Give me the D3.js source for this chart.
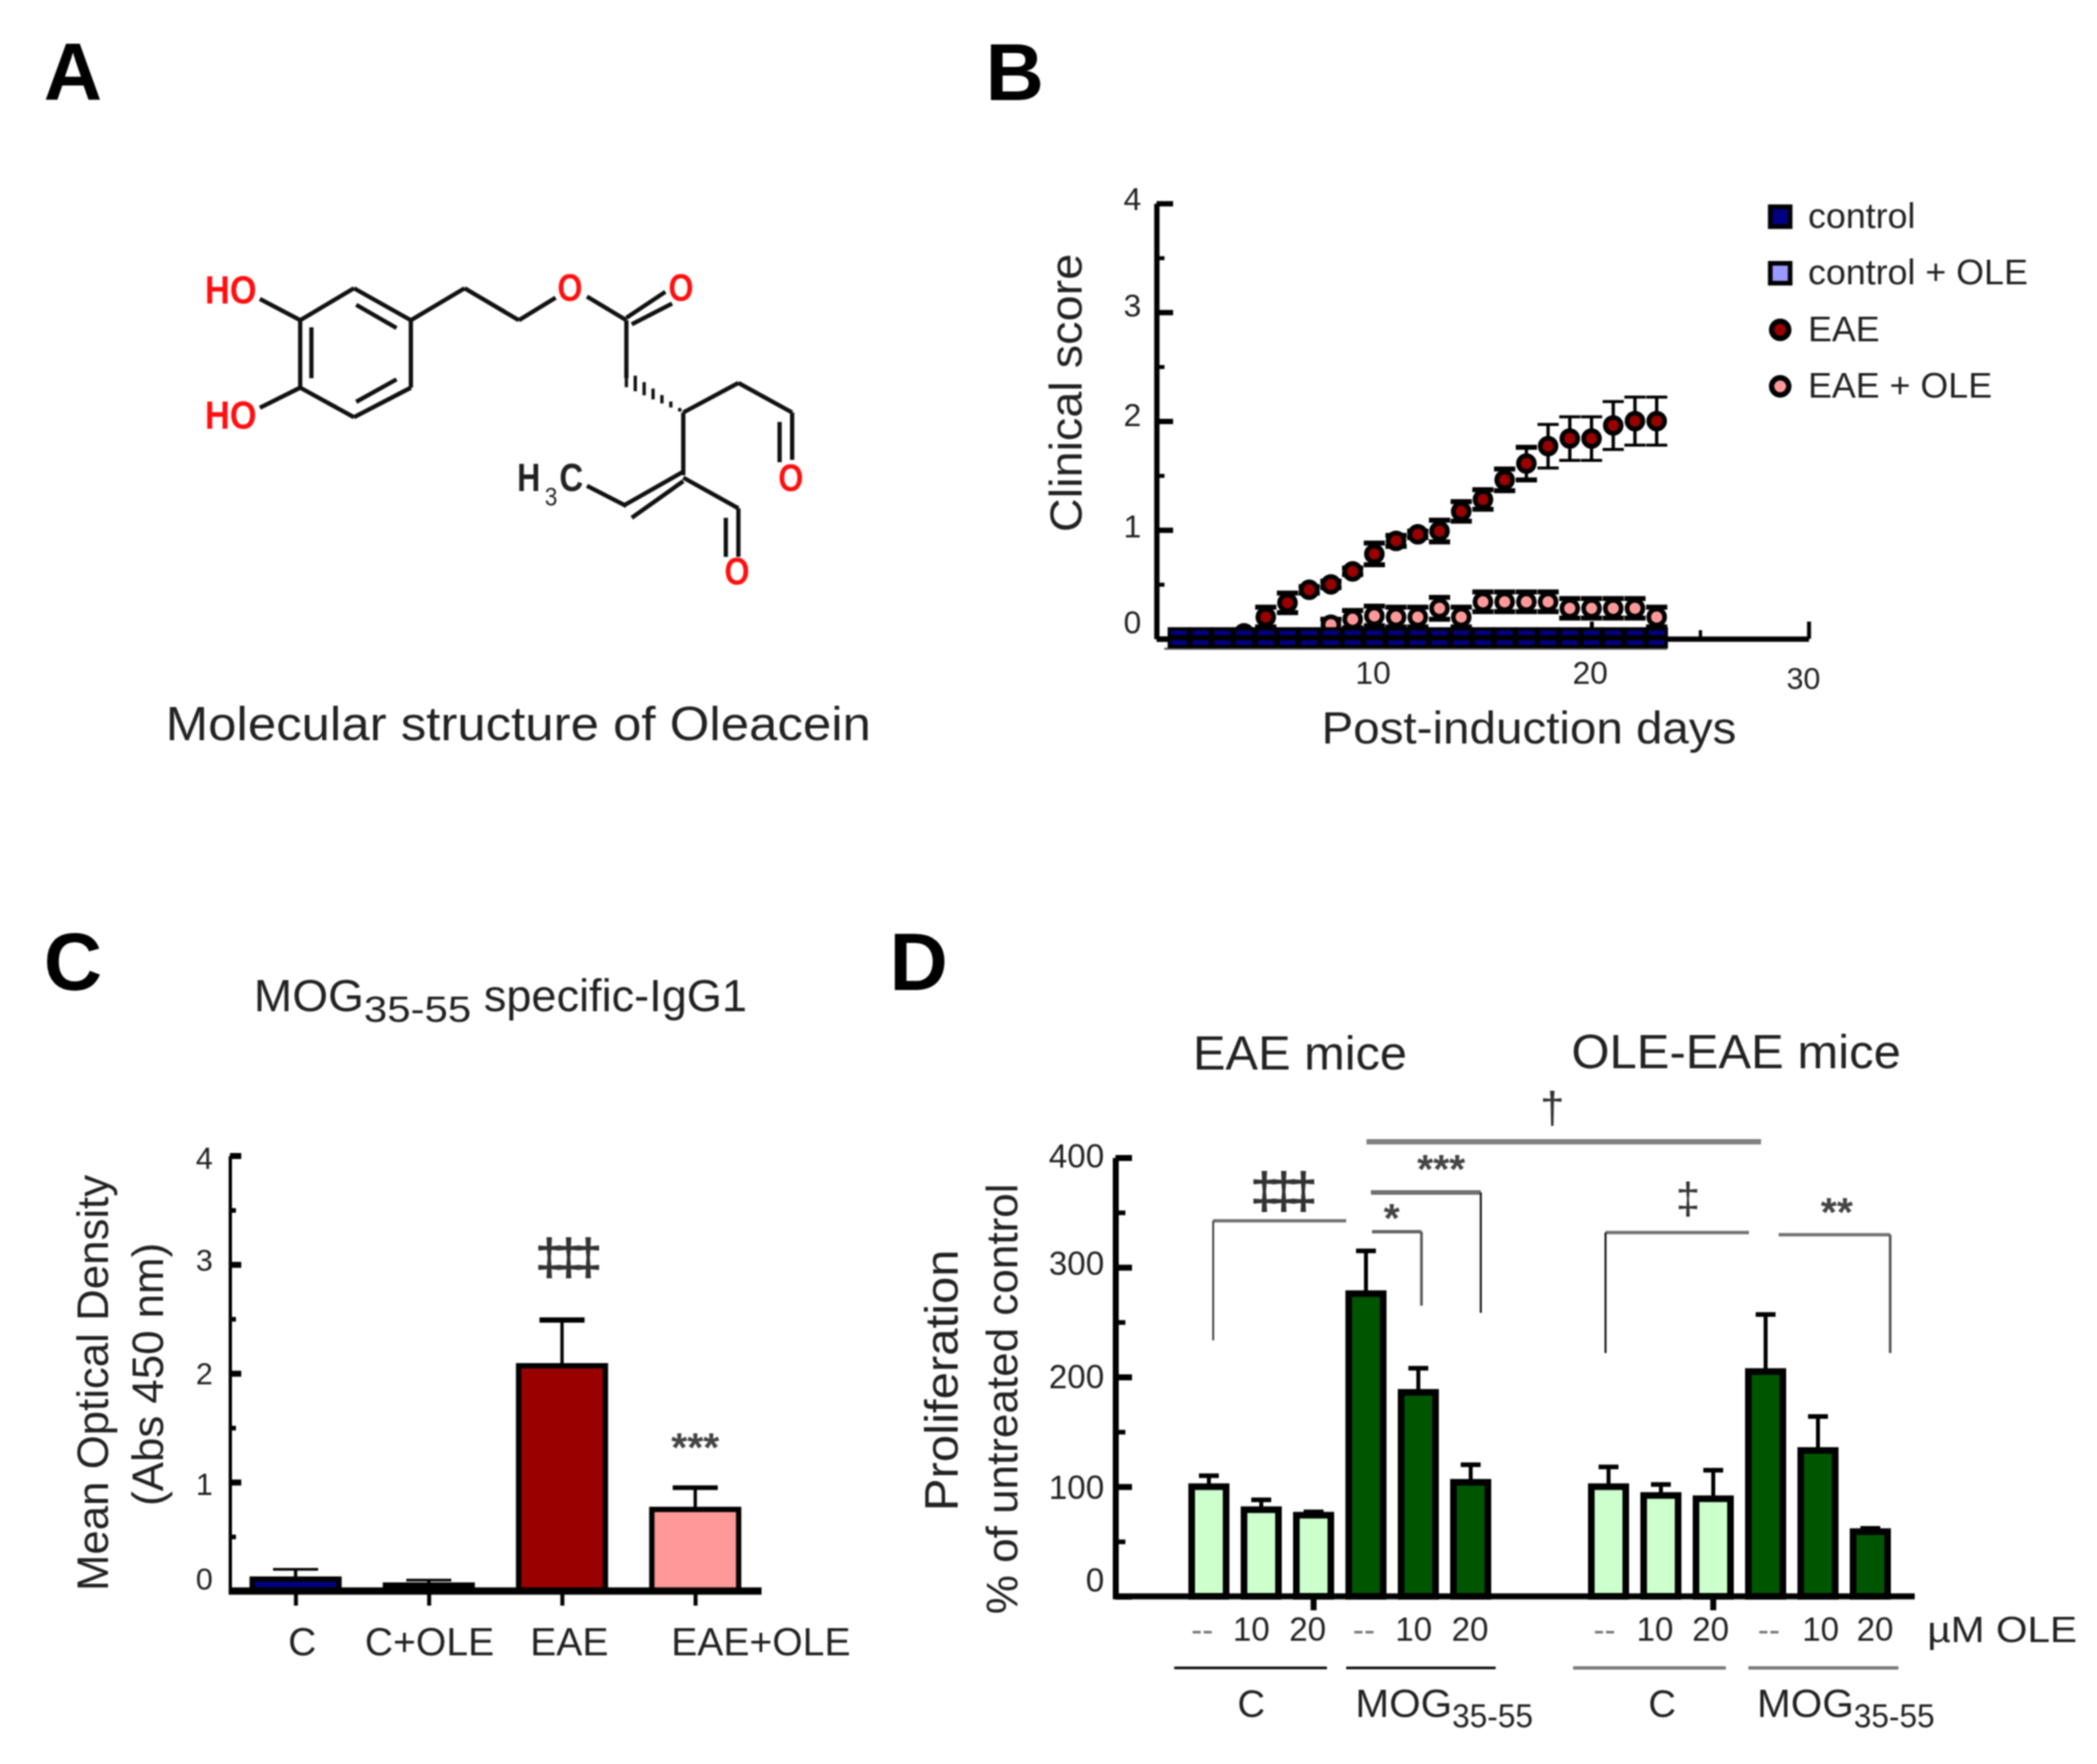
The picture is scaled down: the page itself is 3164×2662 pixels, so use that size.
<!DOCTYPE html>
<html><head><meta charset="utf-8">
<script src="https://cdnjs.cloudflare.com/ajax/libs/d3/7.8.5/d3.min.js"></script>
<style>html,body{margin:0;background:#fff}svg{display:block;filter:blur(.8px)}text{font-family:"Liberation Sans",Arial,sans-serif;fill:#111}</style>
</head><body><script>
// ---------- data ----------
const days=d3.range(1,24);
const eaeDays=d3.range(4,24);
const eae=[0.05,0.2,0.33,0.45,0.5,0.62,0.78,0.9,0.96,0.99,1.17,1.28,1.46,1.61,1.77,1.84,1.84,1.96,2,2];
const eaeErr=[0,0.09,0.09,0.03,0.03,0.03,0.1,0.05,0.03,0.1,0.09,0.09,0.1,0.15,0.2,0.2,0.2,0.22,0.22,0.22];
const oleDays=d3.range(8,24);
const eaeOle=[0.13,0.18,0.21,0.2,0.2,0.28,0.2,0.34,0.34,0.34,0.34,0.28,0.28,0.28,0.28,0.2];
const eaeOleErr=[0.05,0.08,0.09,0.09,0.09,0.1,0.09,0.09,0.09,0.09,0.09,0.09,0.09,0.09,0.09,0.09];
const controlRow=0.055, controlOleRow=-0.035;
const legendNames=["control","control + OLE","EAE","EAE + OLE"];
const colors={navy:"#000080",lilac:"#9999ff",red:"#990000",pink:"#ff9999",lightGreen:"#ccffcc",darkGreen:"#005500"};
const cCats=["C","C+OLE","EAE","EAE+OLE"];
const cVals=[0.11,0.055,2.07,0.75];
const cCaps=[0.2,0.1,2.49,0.95];
const cFill=[colors.navy,"#000000",colors.red,colors.pink];
const dVals=[100,79,74,276,186,104,100,92,89,205,133,59];
const dCaps=[110,88,77,315,208,120,118,102,115,257,164,62];
const dFill=[0,0,0,1,1,1,0,0,0,1,1,1];
const doseLabels=["--","10","20","--","10","20"];

const svg=d3.select("body").append("svg").attr("width",3164).attr("height",2662);
function T(g,x,y,s,o={}){
  const t=g.append("text").attr("x",x).attr("y",y).text(s)
   .attr("font-size",o.size||56).attr("text-anchor",o.anchor||"start");
  if(o.weight)t.attr("font-weight",o.weight);
  if(o.fill)t.style("fill",o.fill);
  if(o.rot)t.attr("transform",`rotate(${o.rot} ${x} ${y})`);
  if(o.len)t.attr("textLength",o.len).attr("lengthAdjust","spacingAndGlyphs");
  if(o.ls)t.attr("letter-spacing",o.ls);
  return t;
}
function axisY(g,y,x,major,minor,o){
  const a=g.append("g").attr("transform",`translate(${x},0)`)
    .call(d3.axisLeft(y).tickValues(major).tickSize(-o.majLen).tickPadding(o.pad).tickSizeOuter(0).tickFormat(d3.format("d")));
  a.select(".domain").attr("stroke","#000").attr("stroke-width",o.w);
  a.selectAll(".tick line").attr("stroke","#000").attr("stroke-width",o.tw);
  a.selectAll(".tick text").attr("font-size",o.font).style("font-family","Liberation Sans").style("fill","#222")
   .attr("dy",(d,i)=>o.dy[i]);
  const m=g.append("g").attr("transform",`translate(${x},0)`)
    .call(d3.axisRight(y).tickValues(minor).tickSize(o.minLen).tickFormat(""));
  m.select(".domain").remove();
  m.selectAll(".tick line").attr("stroke","#000").attr("stroke-width",o.tw-2);
}

// ---------- panel letters ----------
[["A",66,151],["B",1487,151],["C",66,1494],["D",1342,1494]].forEach(d=>
  T(svg,d[1],d[2],d[0],{size:122,weight:"bold",fill:"#000"}));

// ---------- A: molecule, in drawing units ----------
const mx=d3.scaleLinear([0,1568],[240,1300]), my=d3.scaleLinear([0,1568],[360,920]);
const bonds=[[315,345,435,210],[435,210,562,345],[562,345,562,630],[562,630,435,755],[435,755,315,630],[315,630,315,345],
[340,375,340,590],[440,280,530,378],[440,690,530,595],[562,345,682,210],[682,210,803,345],[803,345,885,250],[955,245,1043,345],
[1043,335,1130,225],[1055,362,1145,275],[1043,345,1043,590],[1170,735,1293,610],[1293,610,1413,735],[1413,735,1413,935],[1385,775,1385,945],
[1170,735,1170,1000],[1170,985,1040,1125],[1170,1025,1055,1180],[1043,1130,955,1045],[1170,1010,1293,1140],[1293,1140,1293,1345],[1265,1180,1265,1345],
[315,345,225,255],[315,630,225,715]];
const gA=svg.append("g");
gA.selectAll("line.b").data(bonds).join("line").attr("stroke","#111").attr("stroke-width",6.5)
 .attr("x1",d=>mx(d[0])).attr("y1",d=>my(d[1])).attr("x2",d=>mx(d[2])).attr("y2",d=>my(d[3]));
const hash=d3.range(7).map(i=>i/6.3);
gA.selectAll("line.h").data(hash).join("line").attr("stroke","#111").attr("stroke-width",5)
 .attr("x1",t=>mx(1043+t*125)).attr("x2",t=>mx(1043+t*125))
 .attr("y1",t=>my(590+t*140-32*(1-t)-6)).attr("y2",t=>my(590+t*140+32*(1-t)+6));
[["HO",160,275],["HO",160,803]].forEach(d=>T(gA,mx(d[1]),my(d[2]),d[0],{size:60,weight:"bold",anchor:"middle",fill:"#ff1010",len:78}));
[["O",917,264],["O",1165,264],["O",1410,1067],["O",1290,1462]].forEach(d=>T(gA,mx(d[1]),my(d[2]),d[0],{size:58,weight:"bold",anchor:"middle",fill:"#ff1010",len:38}));
T(gA,mx(825),my(1068),"H",{size:60,anchor:"middle",len:35,weight:"bold",fill:"#222"});
T(gA,mx(875),my(1128),"3",{size:38,anchor:"middle",len:19,fill:"#222"});
T(gA,mx(920),my(1068),"C",{size:60,anchor:"middle",len:36,weight:"bold",fill:"#222"});
T(svg,250,1117,"Molecular structure of Oleacein",{size:72,len:1064,fill:"#222"});

// ---------- B ----------
const gB=svg.append("g");
const xB=d3.scaleLinear([0,30],[1746,2729]);
const yB=d3.scaleLinear([0,4],[964,307]);
axisY(gB,yB,1745,[0,1,2,3,4],[0.5,1.5,2.5,3.5],{majLen:25,minLen:12,pad:23,w:8,tw:8,font:48,dy:["-.17em",".23em",".15em",".12em",".2em"]});
const xa=gB.append("g").attr("transform","translate(0,964)")
  .call(d3.axisTop(xB).tickValues([10,20,30]).tickSize(26).tickFormat("").tickSizeOuter(0));
xa.select(".domain").attr("stroke","#000").attr("stroke-width",8);
xa.selectAll(".tick line").attr("stroke","#000").attr("stroke-width",6);
const xm=gB.append("g").attr("transform","translate(0,964)")
  .call(d3.axisTop(xB).tickValues([5,15,25]).tickSize(13).tickFormat("").tickSizeOuter(0));
xm.select(".domain").remove();xm.selectAll(".tick line").attr("stroke","#000").attr("stroke-width",5);
[[10,1032,48],[20,1032,48],[30,1040,46]].forEach(d=>T(gB,xB(d[0])-(d[0]==30?8:2),d[1],d[0],{size:d[2],anchor:"middle",fill:"#222"}));
function errBars(g,xs,vals,errs){
  const capHalf=16;
  const p=xs.map((d,i)=>({d,v:vals[i],e:errs[i]}));
  g.selectAll(null).data(p).join("line").attr("stroke","#000").attr("stroke-width",5)
   .attr("x1",a=>xB(a.d)).attr("x2",a=>xB(a.d)).attr("y1",a=>yB(a.v-a.e)).attr("y2",a=>yB(a.v+a.e));
  [1,-1].forEach(s=>g.selectAll(null).data(p).join("line").attr("stroke","#000").attr("stroke-width",a=>a.e>0.18?4.5:7.5)
   .attr("x1",a=>xB(a.d)-capHalf).attr("x2",a=>xB(a.d)+capHalf)
   .attr("y1",a=>yB(a.v+s*a.e)).attr("y2",a=>yB(a.v+s*a.e)));
}
const circ=d3.symbol(d3.symbolCircle,Math.PI*12*12);
errBars(gB,eaeDays,eae,eaeErr);
gB.selectAll(null).data(eaeDays).join("path").attr("d",circ).attr("fill",colors.red).attr("stroke","#000").attr("stroke-width",7)
 .attr("transform",(d,i)=>`translate(${xB(d)},${yB(eae[i])})`);
errBars(gB,oleDays,eaeOle,eaeOleErr);
gB.selectAll(null).data(oleDays).join("path").attr("d",circ).attr("fill",colors.pink).attr("stroke","#000").attr("stroke-width",7)
 .attr("transform",(d,i)=>`translate(${xB(d)},${yB(eaeOle[i])})`);
gB.append("line").attr("x1",xB(1)-22).attr("x2",xB(23)+16).attr("y1",979).attr("y2",979).attr("stroke","#555").attr("stroke-width",3);
[controlOleRow,controlRow].forEach(v=>gB.selectAll(null).data(days).join("rect").attr("fill",colors.navy).attr("stroke","#000").attr("stroke-width",5)
 .attr("x",d=>xB(d)-14.5).attr("width",29).attr("y",yB(v)-6).attr("height",12));
T(gB,1632,593,"Clinical score",{size:68,anchor:"middle",rot:-90,len:420,fill:"#222"});
T(gB,2307,1122,"Post-induction days",{size:68,anchor:"middle",len:626,fill:"#222"});
const legY=d3.scalePoint(legendNames,[327,583]);
legendNames.forEach((n,i)=>{
  const y=legY(n);
  if(i<2) gB.append("rect").attr("x",2686-15).attr("y",y-15).attr("width",30).attr("height",30).attr("fill",i?colors.lilac:colors.navy).attr("stroke","#000").attr("stroke-width",7);
  else gB.append("path").attr("d",d3.symbol(d3.symbolCircle,Math.PI*13*13)).attr("transform",`translate(2686,${y})`).attr("fill",i==2?colors.red:colors.pink).attr("stroke","#000").attr("stroke-width",8);
  T(gB,2728,y+17,n,{size:54,fill:"#222"});
});

// ---------- C ----------
const gC=svg.append("g");
const yC=d3.scaleLinear([0,4],[2401,1744]);
const xC=d3.scalePoint(cCats,[446,1049]);
axisY(gC,yC,347,[0,1,2,3,4],[0.5,1.5,2.5,3.5],{majLen:17,minLen:9,pad:26,w:5,tw:9,font:46,dy:["-.05em",".4em",".35em",".2em",".42em"]});
const barW=131;
gC.selectAll(null).data(cCats).join("line").attr("stroke","#000").attr("stroke-width",5)
 .attr("x1",d=>xC(d)).attr("x2",d=>xC(d)).attr("y1",(d,i)=>yC(cVals[i])).attr("y2",(d,i)=>yC(cCaps[i]));
gC.selectAll(null).data(cCats).join("line").attr("stroke","#000").attr("stroke-width",(d,i)=>i==2?8:i==3?7:4)
 .attr("x1",d=>xC(d)-34).attr("x2",d=>xC(d)+34).attr("y1",(d,i)=>yC(cCaps[i])).attr("y2",(d,i)=>yC(cCaps[i]));
gC.selectAll(null).data(cCats).join("rect").attr("stroke","#000").attr("stroke-width",8)
 .attr("fill",(d,i)=>cFill[i]).attr("x",d=>xC(d)-barW/2).attr("width",barW)
 .attr("y",(d,i)=>yC(cVals[i])).attr("height",(d,i)=>yC(0)-yC(cVals[i]));
const xaC=gC.append("g").attr("transform","translate(0,2401)")
 .call(d3.axisBottom(xC).tickSize(22).tickFormat("").tickSizeOuter(0));
xaC.select(".domain").attr("d","M345,0H1149").attr("stroke","#000").attr("stroke-width",11);
xaC.selectAll(".tick line").attr("stroke","#000").attr("stroke-width",6);
[[456],[648],[859],[1148]].forEach((d,i)=>T(gC,d[0],2498,cCats[i],{size:59,anchor:"middle",fill:"#222"}));
T(gC,163,2087,"Mean Optical Density",{size:66,anchor:"middle",rot:-90,len:628,fill:"#222"});
T(gC,246,2074,"(Abs 450 nm)",{size:66,anchor:"middle",rot:-90,len:397,fill:"#222"});
T(gC,383,1526,"MOG",{size:68,fill:"#222",len:166});
T(gC,549,1542,"35-55",{size:56,fill:"#222",len:162});
T(gC,730,1526,"specific-IgG1",{size:68,fill:"#222",len:397});
T(gC,851,1924,"‡‡‡",{size:78,weight:"bold",anchor:"middle",ls:-14,fill:"#333"});
T(gC,1049,2205,"***",{size:62,weight:"bold",anchor:"middle",fill:"#444"});

// ---------- D ----------
const gD=svg.append("g");
const yD=d3.scaleLinear([0,400],[2409,1747]);
const xD1=d3.scalePoint(d3.range(6),[1824,2219]);
const xD2=d3.scalePoint(d3.range(6),[2427,2822]);
const xD=i=>i<6?xD1(i):xD2(i-6);
axisY(gD,yD,1683,[0,100,200,300,400],[50,150,250,350],{majLen:25,minLen:15,pad:17,w:9,tw:9,font:50,dy:["-.15em",".35em",".32em",".22em",".28em"]});
const idx=d3.range(12), dW=52;
gD.selectAll(null).data(idx).join("line").attr("stroke","#000").attr("stroke-width",6)
 .attr("x1",xD).attr("x2",xD).attr("y1",i=>yD(dVals[i])).attr("y2",i=>yD(dCaps[i]));
gD.selectAll(null).data(idx).join("line").attr("stroke","#000").attr("stroke-width",7)
 .attr("x1",i=>xD(i)-15).attr("x2",i=>xD(i)+15).attr("y1",i=>yD(dCaps[i])).attr("y2",i=>yD(dCaps[i]));
gD.selectAll(null).data(idx).join("rect").attr("stroke","#000").attr("stroke-width",10)
 .attr("fill",i=>dFill[i]?colors.darkGreen:colors.lightGreen)
 .attr("x",i=>xD(i)-dW/2).attr("width",dW).attr("y",i=>yD(dVals[i])).attr("height",i=>yD(0)-yD(dVals[i]));
const xaD=gD.append("g").attr("transform","translate(0,2409)");
xaD.append("line").attr("x1",1679).attr("x2",2889).attr("stroke","#000").attr("stroke-width",9);
gD.selectAll(null).data([2,8]).join("line").attr("stroke","#000").attr("stroke-width",9)
 .attr("x1",i=>xD(i)).attr("x2",i=>xD(i)).attr("y1",2409).attr("y2",2430);
const ax=d3.scaleLinear([0,1568],[1600,2900]), ay=d3.scaleLinear([0,1568],[1640,2640]);
// brackets: horizontal bars (grey, thick) and drops (thin)
const hBars=[[557,1275,130,8,"#808080"],[565,765,250,7,"#707070"],[567,657,343,5,"#606060"],[278,520,317,5,"#707070"],[992,1253,345,5,"#707070"],[1307,1510,350,5,"#707070"],
 [207,485,1375,4,"#111"],[520,792,1375,4,"#111"],[933,1211,1375,5,"#777"],[1252,1525,1375,5,"#777"]];
const vBars=[[765,250,535,3,"#111"],[657,343,518,4,"#555"],[278,317,600,3,"#444"],[992,345,630,3,"#111"],[1510,350,630,4,"#555"]];
gD.selectAll(null).data(hBars).join("line").attr("x1",d=>ax(d[0])).attr("x2",d=>ax(d[1])).attr("y1",d=>ay(d[2])).attr("y2",d=>ay(d[2])).attr("stroke-width",d=>d[3]).attr("stroke",d=>d[4]);
gD.selectAll(null).data(vBars).join("line").attr("x1",d=>ax(d[0])).attr("x2",d=>ax(d[0])).attr("y1",d=>ay(d[1])).attr("y2",d=>ay(d[2])).attr("stroke-width",d=>d[3]).attr("stroke",d=>d[4]);
T(gD,ax(693),ay(183)+28,"***",{size:62,weight:"bold",anchor:"middle",fill:"#444"});
T(gD,ax(603),ay(297)+30,"*",{size:62,weight:"bold",anchor:"middle",fill:"#444"});
T(gD,ax(1413),ay(283)+30,"**",{size:62,weight:"bold",anchor:"middle",fill:"#444"});
T(gD,ax(398),ay(250)+25,"‡‡‡",{size:78,weight:"bold",anchor:"middle",ls:-14,fill:"#333"});
T(gD,ax(1142),ay(265)+22,"‡",{size:66,anchor:"middle",fill:"#333"});
T(gD,ax(895),ay(50)+22,"†",{size:66,anchor:"middle",fill:"#333"});
const doseX=[1814,1888,1973,2058,2133,2218,2421,2497,2581,2669,2747,2829];
doseX.forEach((x,i)=>{const s=doseLabels[i%6];T(gD,x,2476,s,{size:50,anchor:"middle",fill:s=="--"?"#777":"#222"});});
T(gD,2908,2478,"µM OLE",{size:56,len:226,fill:"#222"});
T(gD,1888,2591,"C",{size:58,anchor:"middle",fill:"#222"});
T(gD,2508,2591,"C",{size:58,anchor:"middle",fill:"#222"});
[2045,2651].forEach(x=>{
  T(gD,x,2591,"MOG",{size:60,fill:"#222",len:146});
  T(gD,x+146,2607,"35-55",{size:50,fill:"#222",len:122});
});
T(gD,1800,1614,"EAE mice",{size:72,len:323,fill:"#222"});
T(gD,2371,1612,"OLE-EAE mice",{size:72,len:497,fill:"#222"});
T(gD,1445,2083,"Proliferation",{size:70,anchor:"middle",rot:-90,len:395,fill:"#222"});
T(gD,1535,2111,"% of untreated control",{size:66,anchor:"middle",rot:-90,len:650,fill:"#222"});
</script></body></html>
